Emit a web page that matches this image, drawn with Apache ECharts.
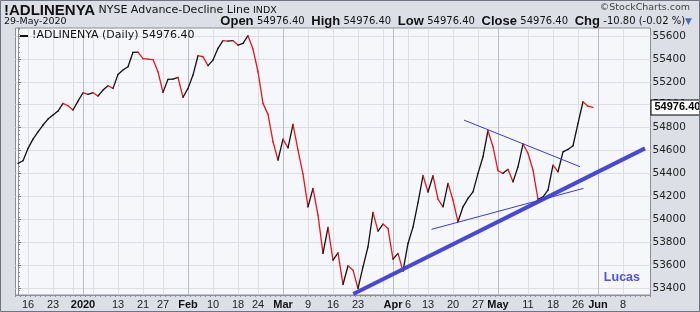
<!DOCTYPE html>
<html><head><meta charset="utf-8">
<script src="https://cdn.jsdelivr.net/npm/echarts@6/dist/echarts.min.js"></script>
<style>html,body{margin:0;padding:0;background:#fff}#c{width:700px;height:312px}</style>
</head><body><div id="c"></div>
<script>
// Trading days shown on the axis (month -> day numbers)
const tradingDays = {
  '2019-12': [12,13,16,17,18,19,20,23,24,26,27,30,31],
  '2020-01': [2,3,6,7,8,9,10,13,14,15,16,17,21,22,23,24,27,28,29,30,31],
  '2020-02': [3,4,5,6,7,10,11,12,13,14,18,19,20,21,24,25,26,27,28],
  '2020-03': [2,3,4,5,6,9,10,11,12,13,16,17,18,19,20,23,24,25,26,27,30,31],
  '2020-04': [1,2,3,6,7,8,9,13,14,15,16,17,20,21,22,23,24,27,28,29,30],
  '2020-05': [1,4,5,6,7,8,11,12,13,14,15,18,19,20,21,22,26,27,28,29],
  '2020-06': [1,2,3,4,5,8,9,10,11,12,15]
};
// Daily closes of !ADLINENYA, Dec 12 2019 .. May 29 2020
const adValues = [54488,54511,54619,54700,54764,54823,54875,54910,54945,55012,
  54991,54954,55032,55105,55091,55105,55076,55128,55166,55143,
  55265,55303,55332,55458,55460,55402,55398,55394,55288,55108,
  55222,55224,55239,55065,55143,55259,55428,55419,55341,55390,
  55493,55559,55556,55559,55521,55536,55603,55486,55288,55012,
  54916,54677,54517,54700,54624,54829,54604,54395,54109,54270,
  54037,53702,53929,53644,53707,53431,53594,53556,53396,53585,
  53760,54060,53897,53958,53920,53652,53702,53548,53789,53932,
  54146,54382,54238,54380,54176,54109,54313,54168,53978,54109,
  54182,54240,54401,54546,54773,54633,54424,54401,54436,54327,
  54458,54657,54576,54430,54174,54196,54255,54473,54415,54589,
  54610,54642,54838,55026,54987.2,54976.4];
// X tick labels (date, text)
const tickLabels = [['2019-12-16','16'],['2019-12-23','23'],['2020-01-02','2020'],['2020-01-13','13'],
  ['2020-01-21','21'],['2020-01-27','27'],['2020-02-03','Feb'],['2020-02-10','10'],['2020-02-18','18'],
  ['2020-02-24','24'],['2020-03-02','Mar'],['2020-03-09','9'],['2020-03-16','16'],['2020-03-23','23'],
  ['2020-04-01','Apr'],['2020-04-06','6'],['2020-04-13','13'],['2020-04-20','20'],['2020-04-27','27'],
  ['2020-05-01','May'],['2020-05-11','11'],['2020-05-18','18'],['2020-05-26','26'],['2020-06-01','Jun'],
  ['2020-06-08','8']];
// Vertical grid lines (week starts and month starts)
const gridDates = ['2019-12-16','2019-12-23','2019-12-30','2020-01-02','2020-01-06','2020-01-13','2020-01-21',
  '2020-01-27','2020-02-03','2020-02-10','2020-02-18','2020-02-24','2020-03-02','2020-03-09','2020-03-16',
  '2020-03-23','2020-03-30','2020-04-01','2020-04-06','2020-04-13','2020-04-20','2020-04-27','2020-05-01',
  '2020-05-11','2020-05-18','2020-05-26','2020-06-01','2020-06-08'];
const yTicks = [53400,53600,53800,54000,54200,54400,54600,54800,55000,55200,55400,55600];
// Trend lines: [dayIndex, value] endpoints
const trendMain = [[67.06,53347],[125.4,54619]];
const trendLower = [[82.7,53912],[113.1,54270]];
const trendUpper = [[89.2,54866],[112.4,54459]];
const lastValue = 54976.40;

const categories = [];
Object.keys(tradingDays).forEach(m => tradingDays[m].forEach(d => categories.push(m + '-' + String(d).padStart(2,'0'))));
const idx = d => categories.indexOf(d);
const labelMap = {};
tickLabels.forEach(([d,t]) => { labelMap[idx(d)] = t; });
const labelIdx = tickLabels.map(([d]) => idx(d));
const gridIdx = gridDates.map(idx);
const isMonthStart = i => i > 0 && categories[i].slice(0,7) !== categories[i-1].slice(0,7);
const gridColors = gridIdx.map(i => isMonthStart(i) ? '#b9bcc6' : '#dcdee4');
const segs = [];
for (let i = 0; i < adValues.length - 1; i++) segs.push([i, adValues[i], i+1, adValues[i+1]]);
const N = categories.length;

const chart = echarts.init(document.getElementById('c'));
const AX = 'Liberation Sans, Arial, sans-serif';
const VD = 'DejaVu Sans, Verdana, sans-serif';
chart.setOption({
  animation: false,
  backgroundColor: '#dcdfe6',
  grid: {left: 15.5, right: 49.5, top: 28, bottom: 17, show: true, backgroundColor: '#f6f7fb', borderColor: '#8a8d96', borderWidth: 1},
  xAxis: [{
    type: 'value', min: -0.5, max: N - 0.5, position: 'bottom',
    axisLine: {show: false},
    axisTick: {show: false, customValues: gridIdx},
    splitLine: {show: true, lineStyle: {color: gridColors, width: 1}},
    axisLabel: {customValues: labelIdx, margin: 4, fontSize: 11, fontFamily: AX, color: '#222',
      formatter: v => { const t = labelMap[Math.round(v)] || ''; return (isNaN(+t) || t.length === 4) ? '{b|' + t + '}' : t; },
      rich: {b: {fontWeight: 'bold', fontSize: 11, fontFamily: AX, color: '#111'}}}
  }, {
    type: 'value', min: -0.5, max: N - 0.5, position: 'bottom', interval: 1,
    axisLine: {show: true, lineStyle: {color: '#8a8d96'}},
    axisTick: {show: true, length: 2, lineStyle: {color: '#8a8d96'}},
    axisLabel: {show: false}, splitLine: {show: false}
  }],
  yAxis: [{
    type: 'value', position: 'right', min: 53339, max: 55670,
    axisLine: {show: false},
    axisTick: {show: true, length: 3, customValues: yTicks, lineStyle: {color: '#777'}},
    splitLine: {show: true, lineStyle: {color: '#dcdee4'}},
    axisLabel: {customValues: yTicks, margin: 2, fontSize: 10.5, fontFamily: VD, color: '#222', formatter: v => String(v)}
  }, {
    type: 'value', position: 'right', min: 53339, max: 55670, interval: 40,
    axisLine: {show: true, lineStyle: {color: '#8a8d96'}},
    axisTick: {show: true, length: 2, lineStyle: {color: '#8a8d96'}},
    axisLabel: {show: false}, splitLine: {show: false}
  }],
  series: [{
    type: 'custom', name: 'segments', xAxisIndex: 0, yAxisIndex: 0, z: 3,
    data: segs, encode: {x: [0, 2], y: [1, 3]},
    renderItem: (params, api) => {
      const p1 = api.coord([api.value(0), api.value(1)]);
      const p2 = api.coord([api.value(2), api.value(3)]);
      const down = api.value(3) < api.value(1);
      return {type: 'line', shape: {x1: p1[0], y1: p1[1], x2: p2[0], y2: p2[1]},
        style: {stroke: down ? '#e5171c' : '#111', lineWidth: 1.3, lineCap: 'round'}};
    }
  }, {
    type: 'line', name: 'adl', data: adValues.map((v, i) => [i, v]), symbol: 'none', silent: true,
    lineStyle: {color: 'rgba(0,0,0,0)', width: 0}, z: 5,
    markLine: {symbol: ['none', 'none'], silent: true, lineStyle: {color: 'rgba(0,0,0,0)', width: 0, type: 'solid'},
      data: [{yAxis: lastValue}],
      label: {show: true, position: 'end', distance: 1, formatter: lastValue.toFixed(2), fontWeight: 'bold', fontSize: 11,
        fontFamily: AX, color: '#000', opacity: 1, backgroundColor: '#fff', borderColor: '#000', borderWidth: 1, padding: [2, 2, 1, 3]}}
  }, {
    type: 'line', name: 'trendMain', data: trendMain, symbol: 'none', silent: true, z: 6,
    lineStyle: {color: '#4747d9', width: 4}
  }, {
    type: 'line', name: 'trendLower', data: trendLower, symbol: 'none', silent: true, z: 6,
    lineStyle: {color: '#3a3ad4', width: 1}
  }, {
    type: 'line', name: 'trendUpper', data: trendUpper, symbol: 'none', silent: true, z: 6,
    lineStyle: {color: '#3a3ad4', width: 1}
  }],
  graphic: [
    {type: 'rect', shape: {x: 0.5, y: 0.5, width: 699, height: 311}, style: {fill: 'none', stroke: '#6f7480'}, z: 100},
    {type: 'text', left: 4, top: 3, style: {
      text: '{a|!ADLINENYA} {b|NYSE Advance-Decline Line} {c|INDX}',
      rich: {a: {fontFamily: AX, fontWeight: 'bold', fontSize: 15, fill: '#111'},
             b: {fontFamily: VD, fontSize: 11, fill: '#111'},
             c: {fontFamily: VD, fontSize: 9.5, fill: '#111'}}}},
    {type: 'text', left: 4, top: 17, style: {text: '29-May-2020', fontFamily: VD, fontSize: 9.5, fill: '#111'}},
    {type: 'text', right: 10, top: 3, style: {text: '\u00a9StockCharts.com', fontFamily: VD, fontSize: 9.5, fill: '#444'}},
    {type: 'text', right: 8, top: 15, style: {
      text: '{b|Open} {v|54976.40}  {b|High} {v|54976.40}  {b|Low} {v|54976.40}  {b|Close} {v|54976.40}  {b|Chg} {v|-10.80 (-0.02 %)}{t|\u25BC}',
      rich: {b: {fontFamily: AX, fontWeight: 'bold', fontSize: 13, fill: '#111'},
             v: {fontFamily: VD, fontSize: 10, fill: '#111'},
             t: {fontFamily: VD, fontSize: 9, fill: '#4a6fb5'}}}},
    {type: 'rect', shape: {x: 20, y: 35, width: 8, height: 2}, style: {fill: '#111'}, z: 10},
    {type: 'text', left: 32, top: 30, z: 10, style: {text: '!ADLINENYA (Daily) 54976.40', fontFamily: VD, fontSize: 11, fill: '#111'}},
    {type: 'text', right: 60, top: 271, z: 10, style: {text: 'Lucas', fontFamily: AX, fontWeight: 'bold', fontSize: 12.5, fill: '#5252dc'}}
  ]
});
</script></body></html>
